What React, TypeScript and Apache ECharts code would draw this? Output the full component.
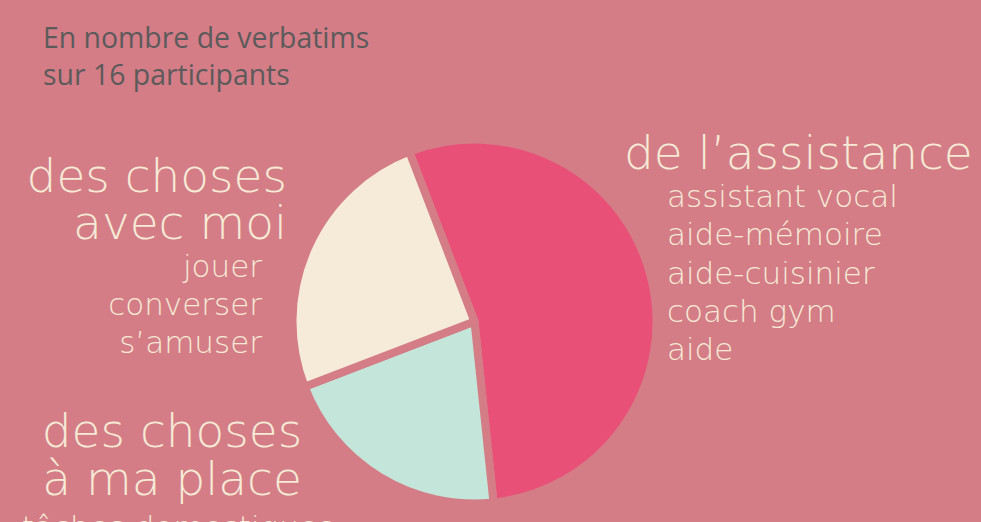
import React, { useEffect, useRef } from "react";
import * as echarts from "echarts";

const titleLines = ["En nombre de verbatims", "sur 16 participants"];
const categories = ["de l’assistance", "des choses à ma place", "des choses avec moi"];
const values = [13, 5, 6];
const colors = ["#e85078", "#c4e5d9", "#f5ebd8"];
const assistanceItems = ["assistant vocal", "aide-mémoire", "aide-cuisinier", "coach gym", "aide"];
const avecMoiItems = ["jouer", "converser", "s’amuser"];
const aMaPlaceItems = ["tâches domestiques"];

const BG = "#d47d87";
const CREAM = "#f6ead6";
const FONT = "'DejaVu Sans', sans-serif";

export default function App() {
  const ref = useRef<HTMLDivElement>(null);
  useEffect(() => {
    const chart = echarts.init(ref.current!, null, { renderer: "svg" });
    const big = (text: string, x: number, y: number, align: string) => ({
      type: "text",
      style: { text, x, y, fill: CREAM, font: `200 47px ${FONT}`, lineHeight: 42, textAlign: align, textVerticalAlign: "middle" },
    });
    const small = (text: string, x: number, y: number, align: string) => ({
      type: "text",
      style: { text, x, y, fill: CREAM, font: `200 31px ${FONT}`, lineHeight: 34, textAlign: align, textVerticalAlign: "middle" },
    });
    const graphics: any[] = [];
    titleLines.forEach((t, i) =>
      graphics.push({
        type: "text",
        style: { text: t, x: 43, y: 37 + i * 37, fill: "#5c5a5a", font: `400 28.4px 'Open Sans', sans-serif`, lineHeight: 34, textAlign: "left", textVerticalAlign: "middle" },
      })
    );
    graphics.push(big("de l’assistance", 624, 152, "left"));
    assistanceItems.forEach((t, i) => graphics.push(small(t, 667, 196 + i * 38.3, "left")));
    graphics.push(big("des choses", 287, 175, "right"));
    graphics.push(big("avec moi", 287, 222, "right"));
    avecMoiItems.forEach((t, i) => graphics.push(small(t, 262, 266 + i * 38, "right")));
    graphics.push(big("des choses", 172, 430, "center"));
    graphics.push(big("à ma place", 172, 478, "center"));
    aMaPlaceItems.forEach((t, i) => graphics.push(small(t, 178, 527 + i * 38, "center")));

    chart.setOption({
      animation: false,
      backgroundColor: BG,
      graphic: graphics,
      series: [
        {
          type: "pie",
          center: [474.5, 321.5],
          radius: [0, 182],
          startAngle: 111,
          clockwise: true,
          label: { show: false },
          labelLine: { show: false },
          emphasis: { disabled: true },
          itemStyle: { borderColor: BG, borderWidth: 8 },
          data: categories.map((name, i) => ({ name, value: values[i], itemStyle: { color: colors[i] } })),
        },
      ],
    });
    return () => chart.dispose();
  }, []);
  return <div ref={ref} style={{ position: "fixed", left: 0, top: 0, width: 981, height: 522 }} />;
}
